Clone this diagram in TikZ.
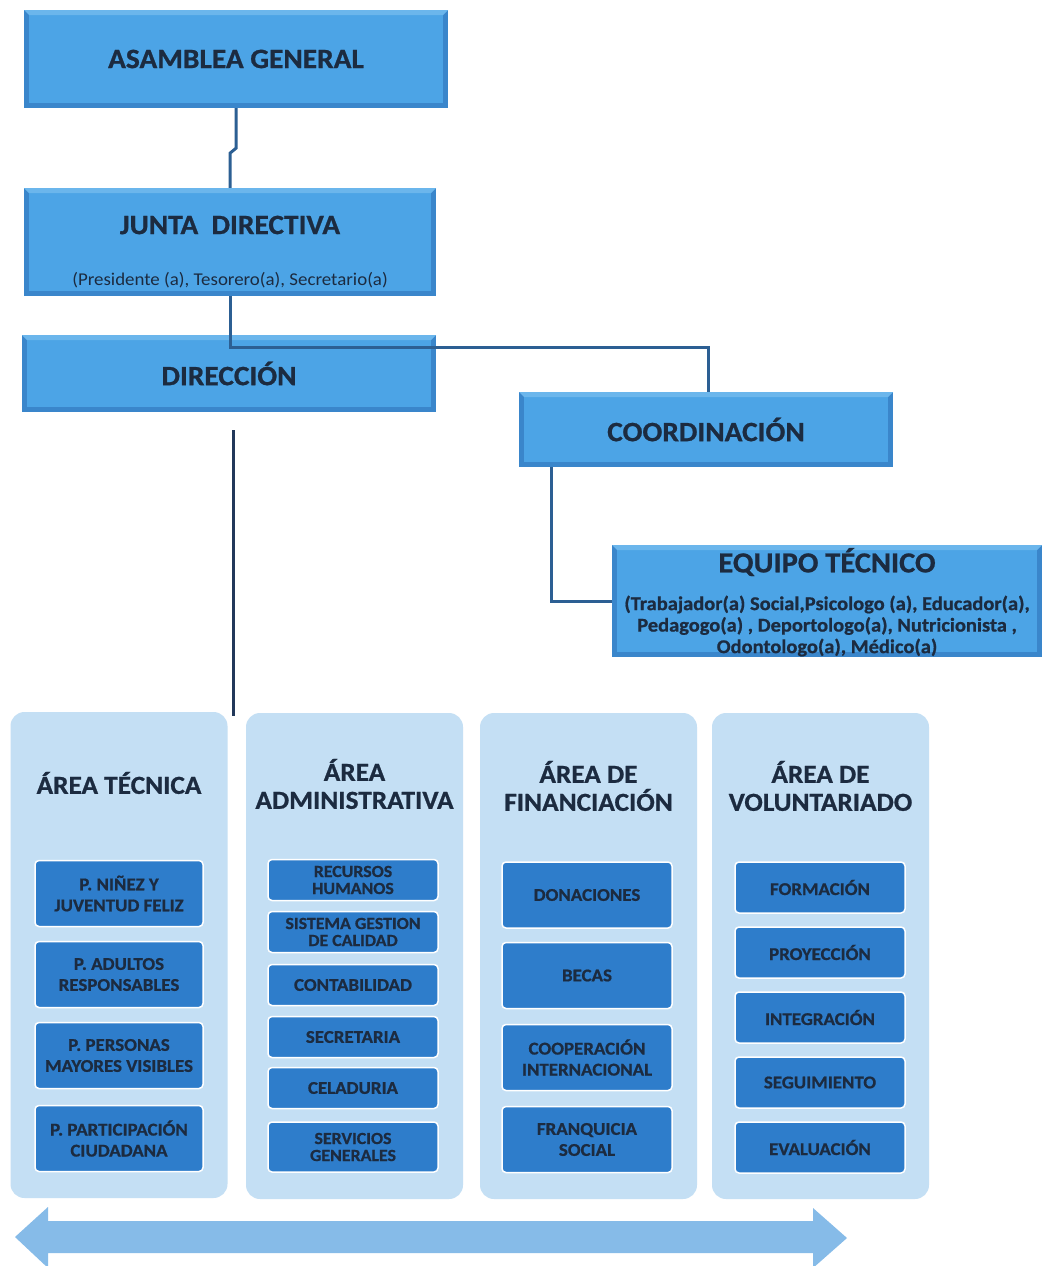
\documentclass[tikz,border=0pt]{standalone}
\usepackage{fontspec}
\setmainfont{Carlito}[FakeStretch=1.05, BoldFeatures={FakeBold=0.8}]
\definecolor{bevout}{HTML}{3A86CB}
\definecolor{bevin}{HTML}{4CA4E6}
\definecolor{bevtop}{HTML}{6BB6EC}
\definecolor{txtdark}{HTML}{1C2B40}
\definecolor{colfill}{HTML}{C4DFF4}
\definecolor{innerfill}{HTML}{2E7DCB}
\definecolor{linecol}{HTML}{2C5F93}
\definecolor{dirline}{HTML}{22385A}
\definecolor{arrowcol}{HTML}{86BBE8}
\tikzset{
  topbox/.style={inner sep=0pt, fill=bevout, text=txtdark, font=\bfseries\fontsize{28}{32}\selectfont,
    path picture={
      \fill[bevin] ([shift={(5pt,-5pt)}]path picture bounding box.north west) rectangle ([shift={(-5pt,5pt)}]path picture bounding box.south east);
      \fill[bevtop] (path picture bounding box.north west) -- (path picture bounding box.north east) -- ([shift={(-5pt,-5pt)}]path picture bounding box.north east) -- ([shift={(5pt,-5pt)}]path picture bounding box.north west) -- cycle;
    }},
  plaintext/.style={inner sep=0pt, text=txtdark, align=center},
  colbox/.style={inner sep=0pt, fill=colfill, rounded corners=14pt, minimum width=217pt, minimum height=486pt},
  colhead/.style={inner sep=0pt, text=txtdark, align=center, font=\bfseries\fontsize{26}{28}\selectfont},
  innerbox/.style={inner sep=0pt, fill=innerfill, draw=white, line width=1.5pt, rounded corners=4pt, minimum width=170pt,
    text=txtdark, align=center, font=\bfseries\fontsize{18}{21}\selectfont},
  smalltwo/.style={font=\bfseries\fontsize{17}{17}\selectfont},
  conn/.style={draw=linecol, line width=3pt},
  dconn/.style={draw=dirline, line width=3pt}
}
\begin{document}
\begin{tikzpicture}[x=1pt,y=-1pt]
\useasboundingbox (0,0) rectangle (1042,1266);
\fill[white] (0,0) rectangle (1042,1266);

% top boxes
\node[topbox, minimum width=424pt, minimum height=98pt] (ag) at (236,59) {ASAMBLEA GENERAL};
\node[topbox, minimum width=412pt, minimum height=108pt] (jd) at (230,242) {};
\node[plaintext, font=\bfseries\fontsize{28}{32}\selectfont] (jdt) at (230,225) {JUNTA\ \ DIRECTIVA};
\node[plaintext, font=\fontsize{18}{20}\selectfont] (jds) at (230,280) {(Presidente (a), Tesorero(a), Secretario(a)};
\node[topbox, minimum width=414pt, minimum height=77pt] (dir) at (229,373.5) {DIRECCIÓN};
\node[topbox, minimum width=374pt, minimum height=75pt] (co) at (706,429.5) {COORDINACIÓN};
\node[topbox, minimum width=430pt, minimum height=112pt] (eq) at (827,601) {};
\node[plaintext, font=\bfseries\fontsize{29}{33}\selectfont] (eqt) at (827,562) {EQUIPO TÉCNICO};
\node[plaintext, font=\bfseries\fontsize{19.5}{21.5}\selectfont] (eqs) at (827,626)
  {(Trabajador(a) Social,Psicologo (a), Educador(a),\\Pedagogo(a) , Deportologo(a), Nutricionista ,\\Odontologo(a), Médico(a)};

% connectors
\draw[conn] (ag.south) -- ++(0,40) -- ++(-6,5) -- (jd.north);
\draw[conn] (jd.south) -- ++(0,51) -| ([xshift=2pt]co.north);
\draw[conn] ([xshift=33pt]co.south west) |- (eq.west);

% columns
\node[colbox] (c1) at (119,955) {};
\node[colbox] (c2) at (354.5,956) {};
\node[colbox] (c3) at (588.5,956) {};
\node[colbox] (c4) at (820.5,956) {};

\coordinate (d1) at ([xshift=4pt,yshift=-18pt]dir.south);
\coordinate (d2) at (233,716);
\draw[dconn] (d1) -- (d2);

\node[colhead] (h1) at (119,783) {ÁREA TÉCNICA};
\node[colhead] (h2) at (354.5,784) {ÁREA\\ADMINISTRATIVA};
\node[colhead] (h3) at (588.5,786) {ÁREA DE\\FINANCIACIÓN};
\node[colhead] (h4) at (820.5,786) {ÁREA DE\\VOLUNTARIADO};

% column 1
\node[innerbox, minimum width=168pt, minimum height=66pt] (a1) at (119,893.5) {P. NIÑEZ Y\\JUVENTUD FELIZ};
\node[innerbox, minimum width=168pt, minimum height=66pt] (a2) at (119,974.5) {P. ADULTOS\\RESPONSABLES};
\node[innerbox, minimum width=168pt, minimum height=66pt] (a3) at (119,1055.5) {P. PERSONAS\\MAYORES VISIBLES};
\node[innerbox, minimum width=168pt, minimum height=66pt] (a4) at (119,1138.5) {P. PARTICIPACIÓN\\CIUDADANA};

% column 2
\node[innerbox, smalltwo, minimum height=41pt] (b1) at (353,880) {RECURSOS\\HUMANOS};
\node[innerbox, smalltwo, minimum height=41pt] (b2) at (353,932) {SISTEMA GESTION\\DE CALIDAD};
\node[innerbox, minimum height=41pt] (b3) at (353,985) {CONTABILIDAD};
\node[innerbox, minimum height=41pt] (b4) at (353,1037) {SECRETARIA};
\node[innerbox, minimum height=41pt] (b5) at (353,1088) {CELADURIA};
\node[innerbox, smalltwo, minimum height=50pt] (b6) at (353,1147) {SERVICIOS\\GENERALES};

% column 3
\node[innerbox, minimum height=66pt] (f1) at (587,895) {DONACIONES};
\node[innerbox, minimum height=66pt] (f2) at (587,975.5) {BECAS};
\node[innerbox, minimum height=66pt] (f3) at (587,1057.5) {COOPERACIÓN\\INTERNACIONAL};
\node[innerbox, minimum height=66pt] (f4) at (587,1139.5) {FRANQUICIA\\SOCIAL};

% column 4
\node[innerbox, minimum height=51pt] (v1) at (820,887.5) {FORMACIÓN};
\node[innerbox, minimum height=51pt] (v2) at (820,952.5) {PROYECCIÓN};
\node[innerbox, minimum height=51pt] (v3) at (820,1017.5) {INTEGRACIÓN};
\node[innerbox, minimum height=51pt] (v4) at (820,1082.5) {SEGUIMIENTO};
\node[innerbox, minimum height=51pt] (v5) at (820,1147.5) {EVALUACIÓN};

% bottom double arrow
\fill[arrowcol] (15,1237) -- (48,1207) -- (48,1221) -- (813,1221) -- (813,1208) -- (847,1238)
  -- (813,1268) -- (813,1253) -- (48,1253) -- (48,1268) -- cycle;
\end{tikzpicture}
\end{document}
